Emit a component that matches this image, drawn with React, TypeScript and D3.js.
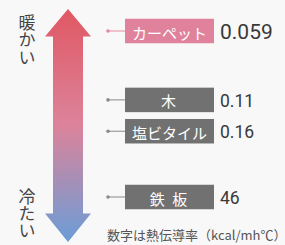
import React from "react";
import * as d3 from "d3";

const materials = ["カーペット", "木", "塩ビタイル", "鉄 板"];
const conductivity = ["0.059", "0.11", "0.16", "46"];
const warmthRank = [0, 2.2, 3.2, 5.3]; // relative vertical slot (warm -> cold)
const highlighted = [true, false, false, false];
const warmLabel = "暖かい";
const coldLabel = "冷たい";
const footnote = "数字は熱伝導率（kcal/mh℃）";

const W = 285;
const H = 245;

export default function App() {
  const y = d3.scaleLinear().domain([0, 5.3]).range([31, 197]);
  const boxX = 125;
  const boxW = 89;
  const boxH = 24.5;

  const cx = 68;
  const top = 9;
  const bottom = 242;
  const headW = 23;
  const shaftW = 15;
  const headH = 27.5;
  const p = d3.path();
  p.moveTo(cx, top);
  p.lineTo(cx + headW, top + headH);
  p.lineTo(cx + shaftW, top + headH);
  p.lineTo(cx + shaftW, bottom - headH - 1);
  p.lineTo(cx + headW, bottom - headH - 1);
  p.lineTo(cx, bottom);
  p.lineTo(cx - headW, bottom - headH - 1);
  p.lineTo(cx - shaftW, bottom - headH - 1);
  p.lineTo(cx - shaftW, top + headH);
  p.lineTo(cx - headW, top + headH);
  p.closePath();

  const jp = "'Noto Sans CJK JP', 'Noto Sans', sans-serif";
  const num = "Roboto, 'Noto Sans', sans-serif";

  return (
    <svg
      width={W}
      height={H}
      style={{ position: "absolute", left: 0, top: 0, background: "#f8f8f8" }}
    >
      <defs>
        <linearGradient id="grad" x1="0" y1="0" x2="0" y2="1">
          <stop offset="0" stopColor="#e05863" />
          <stop offset="0.5" stopColor="#dc839b" />
          <stop offset="1" stopColor="#6a9dd6" />
        </linearGradient>
      </defs>
      <rect width={W} height={H} fill="#f8f8f8" />
      <path d={p.toString()} fill="url(#grad)" />

      <g fontFamily={jp} fontSize={17} fill="#444">
        <text x={27} y={14} style={{ writingMode: "vertical-rl" }} letterSpacing={0.5}>
          {warmLabel}
        </text>
        <text x={27} y={188} style={{ writingMode: "vertical-rl" }} letterSpacing={0}>
          {coldLabel}
        </text>
      </g>

      {materials.map((m, i) => {
        const cy = y(warmthRank[i]);
        const hl = highlighted[i];
        const lineColor = hl ? "#e48aa0" : "#8a8a8a";
        return (
          <g key={m}>
            <line x1={108} x2={boxX} y1={cy} y2={cy} stroke={lineColor} strokeWidth={1} />
            <circle cx={108} cy={cy} r={1.8} fill={lineColor} />
            <rect
              x={boxX}
              y={cy - boxH / 2}
              width={boxW}
              height={boxH}
              fill={hl ? "#e0829c" : "#717171"}
            />
            <text
              x={boxX + boxW / 2}
              y={cy + 1}
              fill="#fff"
              fontFamily={jp}
              fontSize={15}
              textAnchor="middle"
              dominantBaseline="central"
              letterSpacing={m.length <= 3 ? 2 : 0}
            >
              {m}
            </text>
            <text
              x={220}
              y={cy + 1}
              fill="#383838"
              fontFamily={num}
              fontSize={hl ? 21 : 17.5}
              dominantBaseline="central"
            >
              {conductivity[i]}
            </text>
          </g>
        );
      })}

      <text x={107} y={240} fontFamily={jp} fontSize={13} fill="#555">
        {footnote}
      </text>
    </svg>
  );
}
